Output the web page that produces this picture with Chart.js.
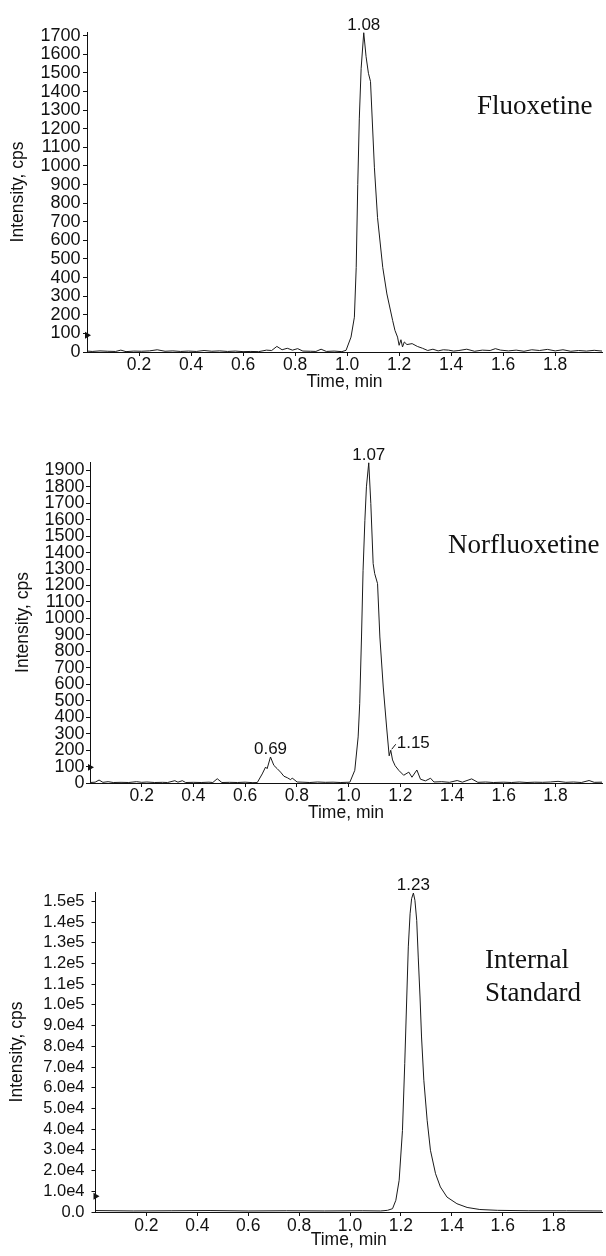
<!DOCTYPE html>
<html>
<head>
<meta charset="utf-8">
<script src="https://cdn.jsdelivr.net/npm/chart.js@4.4.1/dist/chart.umd.min.js"></script>
<style>
  body { margin: 0; background: #fff; width: 606px; height: 1256px; position: relative; overflow: hidden; }
  .panel { position: absolute; left: 0; width: 606px; }
</style>
</head>
<body>
<div class="panel" style="top:0;height:400px"><canvas id="fluoxetine-chart"></canvas></div>
<div class="panel" style="top:410px;height:420px"><canvas id="norfluoxetine-chart"></canvas></div>
<div class="panel" style="top:840px;height:416px"><canvas id="standard-chart"></canvas></div>
<script>
// Time axis (min), shared by the three traces
const timeTicks = [0.2, 0.4, 0.6, 0.8, 1.0, 1.2, 1.4, 1.6, 1.8];
const timeTickLabels = ['0.2', '0.4', '0.6', '0.8', '1.0', '1.2', '1.4', '1.6', '1.8'];

// Fluoxetine trace (cps)
const fluoxetineTime = [
  0.00, 0.02, 0.05, 0.08, 0.11, 0.13, 0.15, 0.18, 0.21, 0.24, 0.27, 0.30, 0.33, 0.36, 0.39, 0.42, 0.45, 0.48, 0.51,
  0.54, 0.57, 0.60, 0.63, 0.66, 0.69, 0.71, 0.73, 0.75, 0.77, 0.79, 0.81, 0.83, 0.86, 0.88, 0.90, 0.92, 0.95, 0.98,
  0.996, 1.015, 1.028, 1.035, 1.041, 1.047, 1.054, 1.064, 1.073, 1.082, 1.090, 1.105, 1.117, 1.137, 1.153, 1.175,
  1.184, 1.194, 1.200, 1.207, 1.213, 1.220,
  1.23, 1.25, 1.27, 1.29, 1.31, 1.33, 1.35, 1.37, 1.39, 1.41, 1.43, 1.46, 1.49, 1.52, 1.55, 1.57, 1.59, 1.62, 1.65,
  1.68, 1.71, 1.74, 1.77, 1.80, 1.83, 1.86, 1.89, 1.92, 1.95, 1.98
];
const fluoxetineIntensity = [
  5, 3, 6, 4, 3, 10, 2, 5, 4, 6, 12, 4, 6, 3, 5, 3, 8, 4, 6,
  3, 5, 2, 3, 2, 10, 8, 30, 12, 20, 10, 18, 5, 4, 3, 15, 3, 5, 2,
  9, 80, 187, 455, 900, 1257, 1525, 1716, 1587, 1498, 1454, 990, 722, 455, 312, 170,
  116, 80, 36, 66, 27, 54,
  40, 45, 30, 20, 8, 15, 6, 12, 10, 5, 8, 15, 4, 10, 8, 18, 10, 6, 10,
  4, 12, 8, 14, 6, 12, 4, 8, 5, 9, 5
];
const fluoxetineTicks = [0, 100, 200, 300, 400, 500, 600, 700, 800, 900, 1000, 1100, 1200, 1300, 1400, 1500, 1600, 1700];
const fluoxetineTickLabels = fluoxetineTicks.map(String);

// Norfluoxetine trace (cps)
const norfluoxetineTime = [
  0.00, 0.02, 0.035, 0.05, 0.07, 0.09, 0.12, 0.15, 0.18, 0.20, 0.22, 0.25, 0.28, 0.30, 0.328,
  0.34, 0.357, 0.37, 0.40, 0.43, 0.46, 0.475, 0.492, 0.51, 0.54, 0.57, 0.60, 0.63, 0.647,
  0.666, 0.679, 0.685, 0.698, 0.711, 0.724, 0.737, 0.75, 0.763, 0.776, 0.782, 0.801, 0.82, 0.85, 0.88,
  0.91, 0.94, 0.97, 1.005,
  1.024, 1.037, 1.043, 1.050, 1.056, 1.063, 1.069, 1.078, 1.086, 1.095, 1.101, 1.112, 1.121, 1.134, 1.147,
  1.157, 1.163, 1.170, 1.180, 1.194,
  1.213, 1.233, 1.245, 1.264, 1.278, 1.297, 1.317, 1.33, 1.36, 1.39, 1.42, 1.44, 1.476, 1.50, 1.53,
  1.56, 1.60, 1.63, 1.66, 1.69, 1.72, 1.75, 1.78, 1.81, 1.84, 1.87, 1.90, 1.93, 1.95, 1.98
];
const norfluoxetineIntensity = [
  3, 5, 18, 4, 8, 3, 4, 3, 8, 4, 6, 3, 4, 3, 14,
  5, 14, 3, 4, 3, 5, 3, 26, 3, 4, 3, 5, 2, 3,
  55, 97, 87, 158, 107, 87, 66, 41, 32, 20, 30, 6, 5, 3, 6,
  4, 5, 3, 5,
  77, 280, 482, 887, 1292, 1596, 1799, 1945, 1698, 1333, 1272, 1211, 887, 583, 340,
  165, 199, 140, 105, 77,
  47, 66, 35, 79, 23, 13, 29, 6, 8, 4, 15, 5, 25, 4, 6,
  3, 5, 3, 6, 3, 5, 4, 6, 10, 4, 6, 3, 15, 4, 5
];
const norfluoxetineTicks = [0, 100, 200, 300, 400, 500, 600, 700, 800, 900, 1000, 1100, 1200, 1300, 1400, 1500, 1600, 1700, 1800, 1900];
const norfluoxetineTickLabels = norfluoxetineTicks.map(String);

// Internal standard trace (cps)
const standardTime = [
  0.00, 0.15, 0.30, 0.45, 0.60, 0.75, 0.90, 1.05, 1.12,
  1.147, 1.167, 1.180, 1.193, 1.206, 1.215, 1.223, 1.229, 1.236, 1.242,
  1.249, 1.255, 1.262, 1.268, 1.275, 1.281, 1.290, 1.303, 1.316, 1.336,
  1.355, 1.381, 1.42, 1.46, 1.51, 1.58, 1.70, 1.85, 1.99
];
const standardIntensity = [
  700, 500, 600, 700, 500, 600, 500, 600, 500,
  800, 1600, 5650, 15300, 39400, 71600, 103800, 128000, 144000, 151300,
  154000, 150500, 140800, 123100, 103800, 84500, 63600, 44300, 29800, 18500,
  12100, 7200, 4000, 2200, 1200, 800, 600, 600, 500
];
const standardTicks = [0, 10000, 20000, 30000, 40000, 50000, 60000, 70000, 80000, 90000, 100000, 110000, 120000, 130000, 140000, 150000];
const standardTickLabels = ['0.0', '1.0e4', '2.0e4', '3.0e4', '4.0e4', '5.0e4', '6.0e4', '7.0e4', '8.0e4', '9.0e4',
  '1.0e5', '1.1e5', '1.2e5', '1.3e5', '1.4e5', '1.5e5'];

// Labelled peaks (retention time of the apex point, printed label)
const fluoxetinePeaks = [{ time: 1.064, text: '1.08' }];
const norfluoxetinePeaks = [{ time: 1.078, text: '1.07' }, { time: 0.698, text: '0.69' }, { time: 1.163, text: '1.15', side: 'right' }];
const standardPeaks = [{ time: 1.249, text: '1.23' }];

// Little threshold markers on the y axis
const fluoxetineMarker = 90;
const norfluoxetineMarker = 95;
const standardMarker = 7600;

Chart.defaults.font.family = '"Liberation Sans", Arial, sans-serif';
Chart.defaults.color = '#111';

// draws the peak retention times and the compound names
const peakLabels = {
  id: 'peakLabels',
  afterDatasetsDraw(chart, args, opts) {
    const { ctx, scales: { x, y } } = chart;
    const times = opts.times;
    const values = opts.values;
    ctx.save();
    ctx.fillStyle = '#111';
    ctx.strokeStyle = '#111';
    ctx.lineWidth = 1;
    ctx.font = '17px "Liberation Sans"';
    ctx.textBaseline = 'alphabetic';
    opts.peaks.forEach(peak => {
      let i = 0;
      times.forEach((t, k) => { if (Math.abs(t - peak.time) < Math.abs(times[i] - peak.time)) i = k; });
      const px = x.getPixelForValue(times[i]);
      const py = y.getPixelForValue(values[i]);
      if (peak.side === 'right') {
        ctx.beginPath();
        ctx.moveTo(px + 1, py - 1);
        ctx.lineTo(px + 5, py - 6);
        ctx.stroke();
        ctx.textAlign = 'left';
        ctx.fillText(peak.text, px + 6, py - 2);
      } else {
        ctx.textAlign = 'center';
        ctx.fillText(peak.text, px, py - 3);
      }
    });
    ctx.font = '27px "Liberation Serif"';
    ctx.textAlign = 'left';
    opts.names.forEach(n => ctx.fillText(n.text, n.x, n.y));
    ctx.restore();
  }
};

function drawChromatogram(canvasId, p) {
  const canvas = document.getElementById(canvasId);
  const height = canvas.parentNode.clientHeight;
  new Chart(canvas.getContext('2d'), {
    type: 'line',
    data: {
      datasets: [{
        data: p.times.map((t, i) => ({ x: t, y: p.values[i] })),
        borderColor: '#1a1a1a',
        borderWidth: 1,
        pointRadius: 0,
        tension: 0,
        fill: false
      }, {
        data: [{ x: 0, y: p.marker }],
        showLine: false,
        pointStyle: 'triangle',
        rotation: 90,
        pointRadius: 4,
        backgroundColor: '#111',
        borderColor: '#111',
        borderWidth: 0,
        clip: false
      }]
    },
    options: {
      responsive: true,
      maintainAspectRatio: false,
      animation: false,
      layout: { padding: { top: p.top, right: 606 - p.right, left: 0, bottom: 0 } },
      plugins: {
        legend: { display: false },
        tooltip: { enabled: false },
        peakLabels: { times: p.times, values: p.values, peaks: p.peaks, names: p.names }
      },
      scales: {
        x: {
          type: 'linear',
          min: 0,
          max: p.xMax,
          afterBuildTicks: s => { s.ticks = timeTicks.map(v => ({ value: v })); },
          afterFit: s => { s.height = height - p.bottom; },
          ticks: {
            autoSkip: false,
            maxRotation: 0,
            padding: p.xTickPad,
            font: { size: 17.5, lineHeight: 1 },
            color: '#111',
            callback: (v, i) => timeTickLabels[i]
          },
          grid: { display: true, drawOnChartArea: false, tickLength: 4, color: '#111', tickColor: '#111' },
          border: { display: true, color: '#111', width: 1 },
          title: { display: true, text: 'Time, min', color: '#111', font: { size: 17.5, lineHeight: 1.2 }, padding: { top: 0, bottom: p.xTitlePad } }
        },
        y: {
          min: 0,
          max: p.yMax,
          afterBuildTicks: s => { s.ticks = p.yTicks.map(v => ({ value: v })); },
          afterFit: s => { s.width = p.left; },
          ticks: {
            autoSkip: false,
            padding: p.yTickPad,
            font: { size: p.yTickSize, lineHeight: 1 },
            color: '#111',
            callback: (v, i) => p.yLabels[i]
          },
          grid: { display: true, drawOnChartArea: false, tickLength: 4, color: '#111', tickColor: '#111' },
          border: { display: true, color: '#111', width: 1 },
          title: { display: true, text: 'Intensity, cps', color: '#111', font: { size: 17.5, lineHeight: 1.2 }, padding: { top: p.yTitlePad, bottom: 0 } }
        }
      }
    },
    plugins: [peakLabels]
  });
}

drawChromatogram('fluoxetine-chart', {
  times: fluoxetineTime, values: fluoxetineIntensity, marker: fluoxetineMarker,
  yTicks: fluoxetineTicks, yLabels: fluoxetineTickLabels, yMax: 1720, xMax: 1.98,
  left: 87, right: 605, top: 32, bottom: 352,
  xTickPad: 0, xTitlePad: 7.5, yTickPad: 2.5, yTickSize: 18, yTitlePad: 7.8,
  peaks: fluoxetinePeaks,
  names: [{ text: 'Fluoxetine', x: 477, y: 114 }]
});

drawChromatogram('norfluoxetine-chart', {
  times: norfluoxetineTime, values: norfluoxetineIntensity, marker: norfluoxetineMarker,
  yTicks: norfluoxetineTicks, yLabels: norfluoxetineTickLabels, yMax: 1950, xMax: 1.98,
  left: 90, right: 603, top: 52, bottom: 373,
  xTickPad: 0, xTitlePad: 6.8, yTickPad: 1.5, yTickSize: 18, yTitlePad: 12.5,
  peaks: norfluoxetinePeaks,
  names: [{ text: 'Norfluoxetine', x: 448, y: 143 }]
});

drawChromatogram('standard-chart', {
  times: standardTime, values: standardIntensity, marker: standardMarker,
  yTicks: standardTicks, yLabels: standardTickLabels, yMax: 154500, xMax: 1.99,
  left: 95.5, right: 605, top: 52, bottom: 372,
  xTickPad: 1, xTitlePad: 5.5, yTickPad: 7, yTickSize: 16.5, yTitlePad: 6.2,
  peaks: standardPeaks,
  names: [{ text: 'Internal', x: 485, y: 128 }, { text: 'Standard', x: 485, y: 161 }]
});
</script>
</body>
</html>
